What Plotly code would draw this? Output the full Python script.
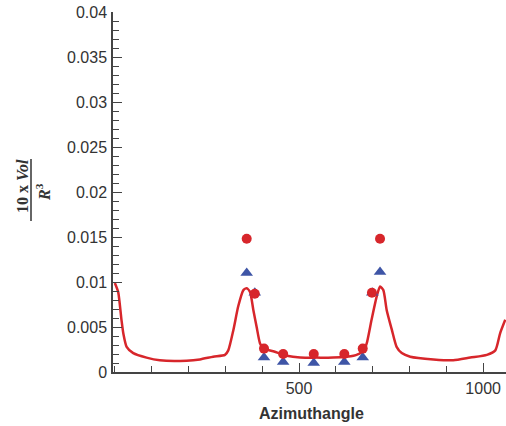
import plotly.graph_objects as go

# Red line curve
curve_x = [0, 9, 18, 23, 32, 50, 86, 122, 195, 231, 267, 299, 308, 322, 335, 349, 358, 367, 376, 385, 394, 403,
           430, 467, 503, 548, 593, 648, 675, 684, 697, 711, 720, 729, 738, 752, 765, 779, 802, 865, 919, 965,
           1010, 1033, 1046, 1060]
curve_y = [0.0099, 0.0089, 0.0058, 0.0043, 0.0028, 0.0021, 0.0016, 0.0013, 0.00126, 0.0014, 0.0017, 0.0019,
           0.0024, 0.0047, 0.0073, 0.0091, 0.0093, 0.0089, 0.0069, 0.0050, 0.0032, 0.0026,
           0.0023, 0.0018, 0.0016, 0.0016, 0.0016, 0.0018, 0.0023, 0.0032, 0.0058, 0.0084, 0.0095, 0.0091,
           0.0069, 0.0047, 0.0028, 0.0021, 0.0017, 0.0014, 0.0013, 0.0016, 0.0019, 0.0024, 0.0043, 0.0058]

# Red circles
circ_x = [358, 380, 405, 457, 540, 623, 673, 698, 720]
circ_y = [0.0148, 0.0087, 0.0026, 0.0020, 0.0020, 0.0020, 0.0026, 0.0088, 0.0148]

# Blue triangles
tri_x = [358, 380, 405, 457, 540, 623, 673, 699, 720]
tri_y = [0.0110, 0.0088, 0.0016, 0.0011, 0.0010, 0.0011, 0.0016, 0.0088, 0.0111]

y_ticks = [0, 0.005, 0.01, 0.015, 0.02, 0.025, 0.03, 0.035, 0.04]
y_ticktext = ["0", "0.005", "0.01", "0.015", "0.02", "0.025", "0.03", "0.035", "0.04"]
x_ticks = [500, 1000]
x_ticktext = ["500", "1000"]

RED = "#d7262b"
BLUE = "#3e55a6"
AX = "#444444"

W, H = 506, 426
L, T, B = 113, 12, 54
PW, PH = W - L, H - T - B

def px(xp):
    return (xp - L) / PW

def py(yp):
    return (H - B - yp) / PH

fig = go.Figure()
fig.add_trace(go.Scatter(x=curve_x, y=curve_y, mode="lines",
                         line=dict(color=RED, width=2.5, shape="spline", smoothing=0.6)))
fig.add_trace(go.Scatter(x=tri_x, y=tri_y, mode="markers",
                         marker=dict(symbol="triangle-up", size=11, color=BLUE)))
fig.add_trace(go.Scatter(x=circ_x, y=circ_y, mode="markers",
                         marker=dict(symbol="circle", size=10, color=RED)))

font = dict(family="Liberation Sans, Arial, sans-serif", size=16, color="#333333")

fig.update_layout(
    width=W, height=H,
    margin=dict(l=L, r=0, t=T, b=B),
    paper_bgcolor="white", plot_bgcolor="white",
    showlegend=False,
    font=font,
    xaxis=dict(range=[-5, 1062], showgrid=False, zeroline=False, showline=True, automargin=False,
               linecolor=AX, linewidth=1.5, ticks="inside", ticklen=9, tickcolor=AX,
               tickvals=x_ticks, ticktext=x_ticktext, ticklabelstandoff=1, tickfont=font,
               ticklabeloverflow="allow",
               minor=dict(ticks="inside", ticklen=6, dtick=100, tick0=0, tickcolor=AX)),
    yaxis=dict(range=[0, 0.04], showgrid=False, zeroline=False, showline=True, automargin=False,
               linecolor=AX, linewidth=1.5, ticks="inside", ticklen=9, tickcolor=AX,
               tickvals=y_ticks, ticktext=y_ticktext, ticklabelstandoff=1, tickfont=font,
               ticklabeloverflow="allow",
               minor=dict(ticks="inside", ticklen=6, dtick=0.001, tick0=0, tickcolor=AX)),
)

fig.add_annotation(xref="paper", yref="paper", x=px(311), y=py(413),
                   text="<b>Azimuthangle</b>", showarrow=False,
                   font=dict(family="Liberation Sans, Arial, sans-serif", size=16, color="#333333"),
                   xanchor="center", yanchor="middle")

serif = dict(family="Liberation Serif, Times New Roman, serif", size=16, color="#333333")
fig.add_annotation(xref="paper", yref="paper", x=px(23), y=py(186),
                   text="<b>10 x <i>Vol</i></b>", textangle=-90, showarrow=False,
                   font=serif, xanchor="center", yanchor="middle")
fig.add_annotation(xref="paper", yref="paper", x=px(43), y=py(192),
                   text="<b><i>R</i><sup>3</sup></b>", textangle=-90, showarrow=False,
                   font=serif, xanchor="center", yanchor="middle")
fig.add_shape(type="line", xref="paper", yref="paper",
              x0=px(31), x1=px(31), y0=py(159), y1=py(221),
              line=dict(color="#333333", width=1.5))

fig.write_html("out.html", config={"displayModeBar": False},
               post_script="document.body.style.margin='0';document.body.style.overflow='hidden';")
